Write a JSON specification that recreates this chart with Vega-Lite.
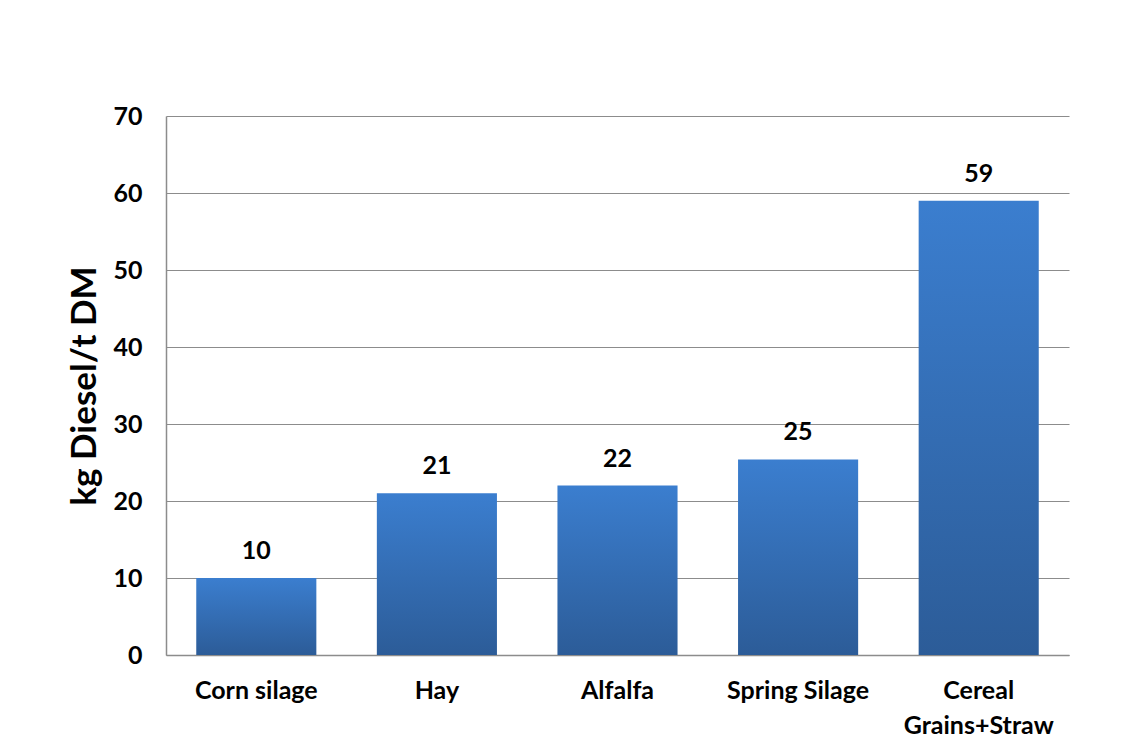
{
  "$schema": "https://vega.github.io/schema/vega-lite/v6.json",
  "width": 903,
  "height": 539,
  "autosize": {"type": "none"},
  "padding": {"left": 166, "top": 116, "right": 70, "bottom": 97},
  "background": "white",
  "config": {
    "view": {"stroke": null},
    "font": "Lato",
    "axis": {"labelFont": "Lato", "titleFont": "Lato"}
  },
  "data": {
    "values": [
      {"crop": "Corn silage", "diesel": 10},
      {"crop": "Hay", "diesel": 21},
      {"crop": "Alfalfa", "diesel": 22},
      {"crop": "Spring Silage", "diesel": 25.4},
      {"crop": "Cereal Grains+Straw", "diesel": 59}
    ]
  },
  "encoding": {
    "x": {
      "field": "crop",
      "type": "nominal",
      "sort": null,
      "scale": {"paddingInner": 0.335, "paddingOuter": 0.1675},
      "axis": {
        "title": null,
        "labelAngle": 0,
        "labelFontSize": 25,
        "labelFontWeight": "bold",
        "labelColor": "#000000",
        "labelPadding": 23,
        "labelLineHeight": 35,
        "labelBaseline": "top",
        "labelExpr": "datum.value == 'Cereal Grains+Straw' ? ['Cereal', 'Grains+Straw'] : datum.label",
        "ticks": false,
        "domainColor": "#8c8c8c",
        "domainWidth": 1.5
      }
    },
    "y": {
      "field": "diesel",
      "type": "quantitative",
      "scale": {"domain": [0, 70]},
      "axis": {
        "title": "kg Diesel/t DM",
        "titleFontSize": 35,
        "titleFontWeight": "bold",
        "titleColor": "#000000",
        "titlePadding": 10,
        "values": [0, 10, 20, 30, 40, 50, 60, 70],
        "labelFontSize": 25,
        "labelFontWeight": "bold",
        "labelColor": "#000000",
        "labelPadding": 24,
        "ticks": false,
        "grid": true,
        "gridColor": "#8c8c8c",
        "gridWidth": 1.2,
        "domainColor": "#8c8c8c",
        "domainWidth": 1.5
      }
    }
  },
  "layer": [
    {
      "mark": {
        "type": "bar",
        "color": {
          "gradient": "linear",
          "x1": 0, "y1": 0, "x2": 0, "y2": 1,
          "stops": [
            {"offset": 0, "color": "#3b7ecf"},
            {"offset": 1, "color": "#2c5c98"}
          ]
        }
      }
    },
    {
      "mark": {
        "type": "text",
        "baseline": "alphabetic",
        "dy": -19,
        "fontSize": 25,
        "fontWeight": "bold",
        "color": "#000000"
      },
      "encoding": {
        "text": {"field": "diesel", "type": "quantitative", "format": ".0f"}
      }
    }
  ]
}
